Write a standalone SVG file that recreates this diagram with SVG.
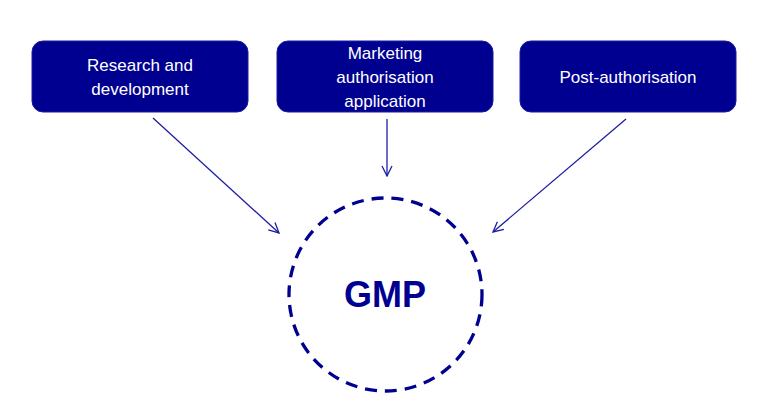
<svg xmlns="http://www.w3.org/2000/svg" width="766" height="403" viewBox="0 0 766 403">
<style>
.box{fill:#000090;stroke:#1a1aa0;stroke-width:1}
.lbl{font-family:"Liberation Sans",Arial,sans-serif;font-size:17px;fill:#fff;text-anchor:middle}
.conn{stroke:#1c1ca6;stroke-width:1.3;fill:none}
</style>
<defs>
<marker id="arr" viewBox="0 0 12 12" refX="11" refY="6" markerWidth="12" markerHeight="12" markerUnits="userSpaceOnUse" orient="auto">
<path d="M1,1 L11,6 L1,11" fill="none" stroke="#1c1ca6" stroke-width="1.3"/>
</marker>
</defs>
<rect width="766" height="403" fill="#fff"/>
<g id="connectors">
<line class="conn" x1="153" y1="118" x2="279" y2="233" marker-end="url(#arr)"/>
<line class="conn" x1="387" y1="119" x2="387" y2="176" marker-end="url(#arr)"/>
<line class="conn" x1="626" y1="119" x2="493" y2="232" marker-end="url(#arr)"/>
</g>
<g id="rd">
<rect class="box" x="32" y="41" width="216" height="71" rx="11"/>
<text class="lbl" x="140" y="71">Research and</text>
<text class="lbl" x="140" y="95">development</text>
</g>
<g id="maa">
<rect class="box" x="277" y="41" width="216" height="71" rx="11"/>
<text class="lbl" x="385" y="59">Marketing</text>
<text class="lbl" x="385" y="83">authorisation</text>
<text class="lbl" x="385" y="107">application</text>
</g>
<g id="post">
<rect class="box" x="520" y="41" width="216" height="71" rx="11"/>
<text class="lbl" x="628" y="83">Post-authorisation</text>
</g>
<g id="gmp">
<circle cx="385.5" cy="294.5" r="96.5" fill="none" stroke="#000090" stroke-width="3.3" stroke-dasharray="12 8"/>
<text x="385" y="307" font-family="'Liberation Sans',Arial,sans-serif" font-size="36" font-weight="bold" fill="#000090" text-anchor="middle">GMP</text>
</g>
</svg>
